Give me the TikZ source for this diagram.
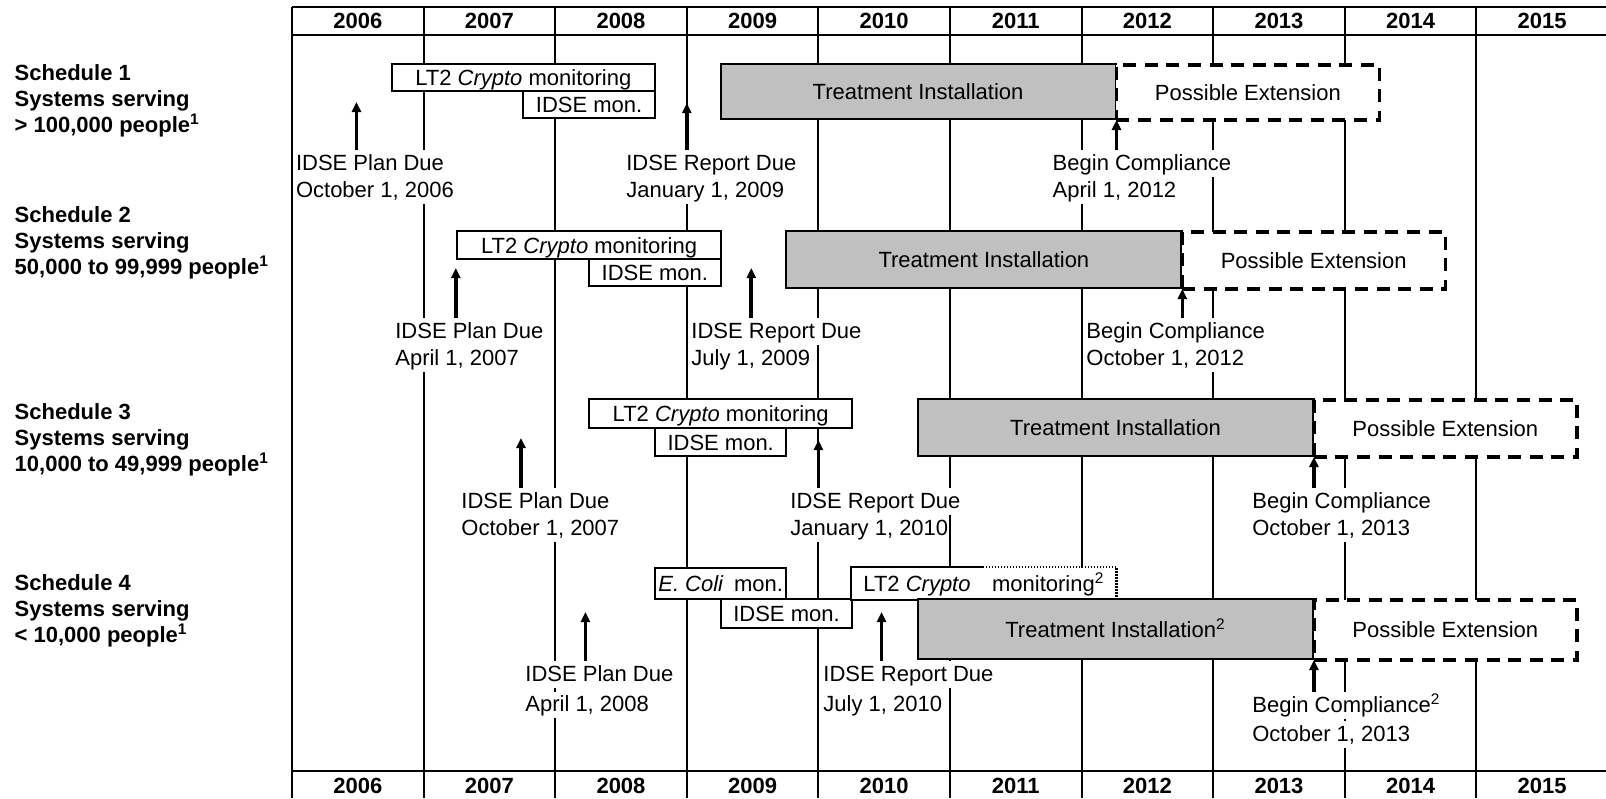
\documentclass[tikz,border=0pt]{standalone}
\usepackage{fontspec}
\setmainfont{Liberation Sans}
\usetikzlibrary{arrows.meta}
\definecolor{instgray}{RGB}{192,192,192}
\begin{document}
\begin{tikzpicture}[x=65.8pt,y=-0.5pt,
  font=\fontsize{11}{13}\selectfont,
  gridln/.style={line width=1pt},
  frameln/.style={line width=1.3pt},
  yearlbl/.style={font=\fontsize{11}{13}\selectfont\bfseries},
  schedlbl/.style={font=\fontsize{11}{13}\selectfont\bfseries, align=left, anchor=west, inner sep=0pt},
  tlsize/.style 2 args={minimum width=#1*65.8pt, minimum height=#2*0.5pt},
  tlbox/.style={draw, line width=1pt, inner sep=0pt, anchor=north west, text height=8pt, text depth=0pt},
  monbox/.style={tlbox, fill=white},
  instbox/.style={tlbox, fill=instgray},
  extbox/.style={tlbox, fill=white, line width=1.8pt, dash pattern=on 6.5pt off 4.3pt},
  duearrow/.style={line width=1.8pt, -{Triangle[length=5pt,width=4.5pt]}},
  datelbl/.style={fill=white, anchor=base west, inner xsep=0.5pt, inner ysep=1pt, text height=9pt, text depth=2.25pt},
  datelblb/.style={datelbl, anchor=north west}]
\useasboundingbox (-2.2188,0) rectangle (9.9848,798);

\foreach \t in {1,...,9}
  \draw[gridln] (\t,7) -- (\t,798);
\draw[frameln] (0,7) -- (9.9848,7);
\draw[frameln] (0,35) -- (9.9848,35);
\draw[frameln] (0,771) -- (9.9848,771);
\foreach \yr [count=\t from 0] in {2006,...,2015} {
  \node[yearlbl] (top\yr) at (\t+0.5,21) {\yr};
  \node[yearlbl] (bot\yr) at (\t+0.5,786) {\yr};
}

\node[schedlbl] (sched1) at (-2.11,101) {Schedule 1\\Systems serving\\> 100,000 people\textsuperscript{1}};
\node[schedlbl] (sched2) at (-2.11,243) {Schedule 2\\Systems serving\\50,000 to 99,999 people\textsuperscript{1}};
\node[schedlbl] (sched3) at (-2.11,440) {Schedule 3\\Systems serving\\10,000 to 49,999 people\textsuperscript{1}};
\node[schedlbl] (sched4) at (-2.11,611) {Schedule 4\\Systems serving\\< 10,000 people\textsuperscript{1}};

\node[monbox, tlsize={2}{27}] (mon1) at (0.75,63) {LT2 \textit{Crypto} monitoring};
\node[monbox, tlsize={1}{27}] (idse1) at (1.75,90) {IDSE mon.};
\node[instbox, tlsize={3}{55}] (inst1) at (3.25,63) {Treatment Installation};
\node[extbox, tlsize={2}{55}] (ext1) at (6.25,63) {Possible Extension};

\node[monbox, tlsize={2}{28}] (mon2) at (1.25,230) {LT2 \textit{Crypto} monitoring};
\node[monbox, tlsize={1}{27}] (idse2) at (2.25,258) {IDSE mon.};
\node[instbox, tlsize={3}{57}] (inst2) at (3.75,230) {Treatment Installation};
\node[extbox, tlsize={2}{57}] (ext2) at (6.75,230) {Possible Extension};

\node[monbox, tlsize={2}{29}] (mon3) at (2.25,398) {LT2 \textit{Crypto} monitoring};
\node[monbox, tlsize={1}{28}] (idse3) at (2.75,427) {IDSE mon.};
\node[instbox, tlsize={3}{57}] (inst3) at (4.75,398) {Treatment Installation};
\node[extbox, tlsize={2}{57}] (ext3) at (7.75,398) {Possible Extension};

\node[monbox, tlsize={1}{31}] (ecoli4) at (2.75,567) {\textit{E. Coli}\hspace{0.2em} mon.};
\node[monbox, tlsize={1}{29}] (idse4) at (3.25,598) {IDSE mon.};
\node[monbox, draw=none, tlsize={2}{31}] (mon4) at (4.25,567) {LT2 \textit{Crypto}\hspace{0.7em} monitoring\textsuperscript{2}};
\coordinate (dot4) at (5.25,567);
\draw[line width=1pt] (mon4.south east) -- (mon4.south west) -- (mon4.north west) -- (dot4);
\draw[line width=1.2pt, dash pattern=on 0.75pt off 0.75pt] (dot4) -- (mon4.north east) -- (mon4.south east);
\node[instbox, tlsize={3}{60}] (inst4) at (4.75,598) {Treatment Installation\textsuperscript{2}};
\node[extbox, tlsize={2}{60}] (ext4) at (7.75,598) {Possible Extension};

\node[datelbl] (plan1) at (0.02,170) {IDSE Plan Due};
\node[datelblb] (plan1b) at (plan1.south west) {October 1, 2006};
\node[datelbl] (rep1) at (2.53,170) {IDSE Report Due};
\node[datelblb] (rep1b) at (rep1.south west) {January 1, 2009};
\node[datelbl] (comp1) at (5.77,170) {Begin Compliance};
\node[datelblb] (comp1b) at (comp1.south west) {April 1, 2012};

\node[datelbl] (plan2) at (0.775,338) {IDSE Plan Due};
\node[datelblb] (plan2b) at (plan2.south west) {April 1, 2007};
\node[datelbl] (rep2) at (3.025,338) {IDSE Report Due};
\node[datelblb] (rep2b) at (rep2.south west) {July 1, 2009};
\node[datelbl] (comp2) at (6.026,338) {Begin Compliance};
\node[datelblb] (comp2b) at (comp2.south west) {October 1, 2012};

\node[datelbl] (plan3) at (1.277,508) {IDSE Plan Due};
\node[datelblb] (plan3b) at (plan3.south west) {October 1, 2007};
\node[datelbl] (rep3) at (3.777,508) {IDSE Report Due};
\node[datelblb] (rep3b) at (rep3.south west) {January 1, 2010};
\node[datelbl] (comp3) at (7.287,508) {Begin Compliance};
\node[datelblb] (comp3b) at (comp3.south west) {October 1, 2013};

\node[datelbl] (plan4) at (1.763,681) {IDSE Plan Due};
\node[datelblb, yshift=-1.75pt] (plan4b) at (plan4.south west) {April 1, 2008};
\node[datelbl] (rep4) at (4.028,681) {IDSE Report Due};
\node[datelblb, yshift=-1.75pt] (rep4b) at (rep4.south west) {July 1, 2010};
\node[datelbl] (comp4) at (7.287,712) {Begin Compliance\textsuperscript{2}};
\node[datelblb, yshift=-1pt] (comp4b) at (comp4.south west) {October 1, 2013};

\draw[frameln] (0,7) -- (0,798);

\coordinate (tplan1) at (0.49,102);
\coordinate (trep1) at (3,103);
\coordinate (tplan2) at (1.245,268);
\coordinate (trep2) at (3.49,268);
\coordinate (tplan3) at (1.74,438);
\coordinate (trep3) at (4,440);
\coordinate (tplan4) at (2.23,612);
\coordinate (trep4) at (4.48,612);
\draw[duearrow] (tplan1 |- plan1.north) -- (tplan1);
\draw[duearrow] (trep1 |- rep1.north) -- (trep1);
\draw[duearrow] (inst1.south east |- comp1.north) -- (inst1.south east);
\draw[duearrow] (tplan2 |- plan2.north) -- (tplan2);
\draw[duearrow] (trep2 |- rep2.north) -- (trep2);
\draw[duearrow] (inst2.south east |- comp2.north) -- (inst2.south east);
\draw[duearrow] (tplan3 |- plan3.north) -- (tplan3);
\draw[duearrow] (trep3 |- rep3.north) -- (trep3);
\draw[duearrow] (inst3.south east |- comp3.north) -- (inst3.south east);
\draw[duearrow] (tplan4 |- plan4.north) -- (tplan4);
\draw[duearrow] (trep4 |- rep4.north) -- (trep4);
\draw[duearrow] (inst4.south east |- comp4.north) -- (inst4.south east);
\end{tikzpicture}
\end{document}
